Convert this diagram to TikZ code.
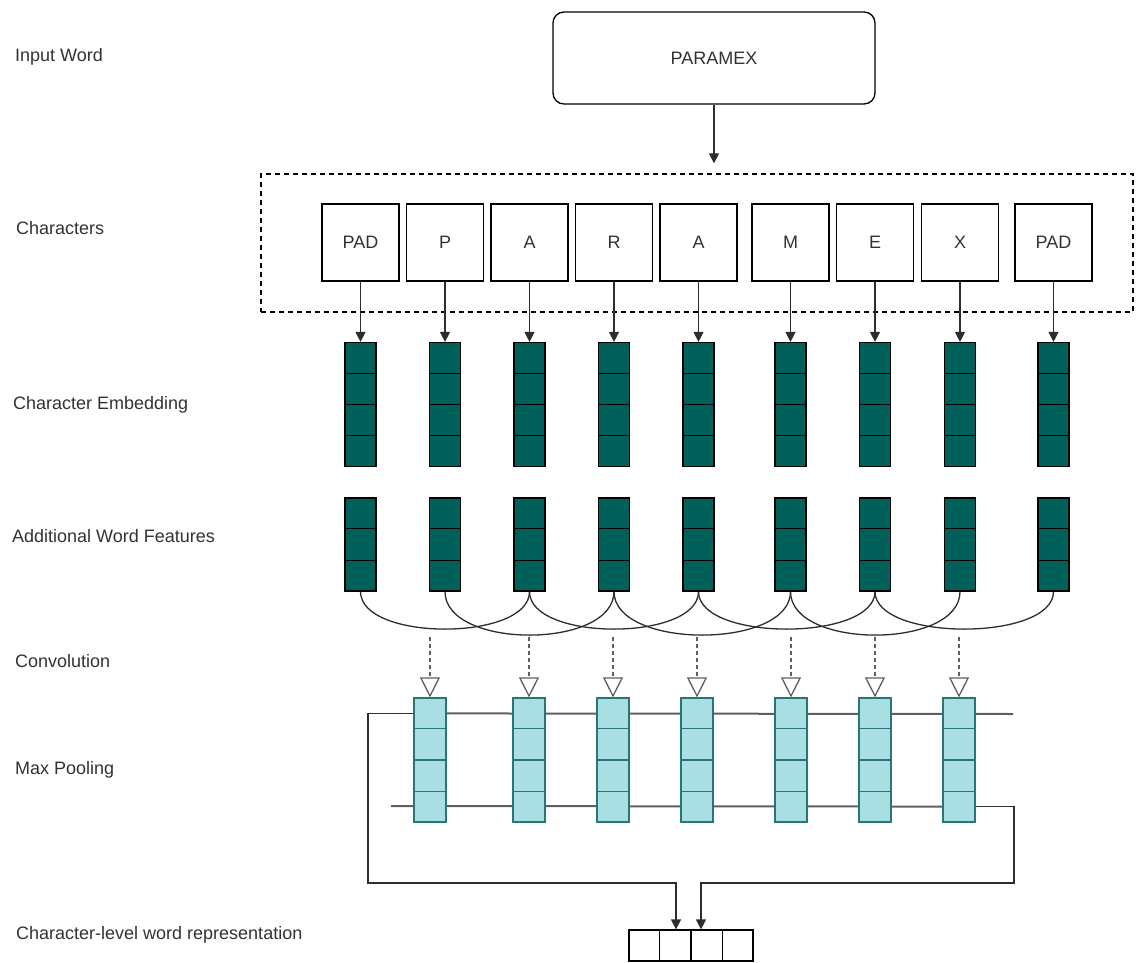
\documentclass[tikz,border=0pt]{standalone}
\usepackage{fontspec}
\setmainfont{Liberation Sans}
\usepackage{xcolor}
\usepackage{tikz}
\usetikzlibrary{arrows.meta,calc,backgrounds}
\definecolor{EmbedTeal}{RGB}{0,96,90}
\definecolor{PoolCyan}{RGB}{169,223,226}
\definecolor{PoolEdge}{RGB}{40,118,122}
\definecolor{LineDark}{RGB}{45,45,45}
\definecolor{RailGray}{RGB}{95,95,95}
\definecolor{TextGray}{RGB}{50,50,50}

\begin{document}
\begin{tikzpicture}[x=1pt,y=-1pt,font=\fontsize{18}{21}\selectfont,
    rowlabel/.style={anchor=west,text=TextGray,inner sep=0pt},
    wordbox/.style={draw,rounded corners=11pt,minimum width=322pt,minimum height=92pt,line width=1.3pt,text=TextGray},
    dashbox/.style={draw,dash pattern=on 5pt off 4pt,line width=1.3pt,minimum width=872pt,minimum height=138pt},
    charbox/.style={draw,minimum size=77pt,inner sep=0pt,line width=1.2pt,text=TextGray},
    embcol/.style={draw,fill=EmbedTeal,minimum width=31pt,minimum height=124pt,inner sep=0pt,line width=1.2pt},
    featcol/.style={embcol,minimum height=93pt},
    poolcol/.style={draw=PoolEdge,fill=PoolCyan,minimum width=32pt,minimum height=124pt,inner sep=0pt,line width=1.2pt},
    repbox/.style={draw,minimum width=124pt,minimum height=31pt,inner sep=0pt,line width=1.2pt},
    arr/.style={-{Triangle[length=10pt,width=10pt]},line width=1.3pt,draw=LineDark},
    convarr/.style={-{Triangle[open,length=20pt,width=20pt,fill=white]},dash pattern=on 4pt off 3pt,line width=1.3pt,draw=RailGray},
    curve/.style={line width=1.3pt,draw=LineDark},
    rail/.style={line width=2pt,draw=RailGray}]
  \useasboundingbox (0,0) rectangle (1136,963);

  % labels on the left
  \node[rowlabel] (lblword) at (15,57) {Input Word};
  \node[rowlabel] (lblchar) at (16,228) {Characters};
  \node[rowlabel] (lblemb) at (13,405) {Character Embedding};
  \node[rowlabel] (lblfeat) at (12,536) {Additional Word Features};
  \node[rowlabel] (lblconv) at (15,661) {Convolution};
  \node[rowlabel] (lblpool) at (15,770) {Max Pooling};
  \node[rowlabel] (lblrep) at (16,935) {Character-level word representation};

  % input word
  \node[wordbox] (word) at (714,58) {PARAMEX};
  \node[dashbox] (charrow) at (697,243) {};
  \draw[arr,shorten >=10pt] (word.south) -- (word.south |- charrow.north);

  % characters, embeddings, features
  \foreach \x/\c [count=\i from 0] in {360.5/PAD,445/P,529.5/A,614/R,698.5/A,790.5/M,875/E,960/X,1053.5/PAD}{
    \node[charbox] (ch\i) at (\x,242.5) {\c};
    \node[embcol] (emb\i) at (\x,404.5) {};
    \node[featcol] (feat\i) at (\x,544.5) {};
    \foreach \k in {1,2,3}
      \draw[line width=1.2pt] ($(emb\i.north west)!\k/4!(emb\i.south west)$) -- ($(emb\i.north east)!\k/4!(emb\i.south east)$);
    \foreach \k in {1,2}
      \draw[line width=1.2pt] ($(feat\i.north west)!\k/3!(feat\i.south west)$) -- ($(feat\i.north east)!\k/3!(feat\i.south east)$);
    \draw[arr] (ch\i.south) -- (emb\i.north);
  }

  % convolution windows
  \foreach \i in {0,...,6}{
    \pgfmathtruncatemacro{\j}{\i+2}
    \pgfmathsetmacro{\dip}{mod(\i,2)==0 ? 50 : 58}
    \draw[curve] (feat\i.south) .. controls +(0,\dip) and +(0,\dip) .. (feat\j.south);
  }

  % max pooling
  \foreach \x [count=\i from 0] in {430,529,613,697,791,875,959}{
    \coordinate (cv\i) at (\x,637);
    \node[poolcol] (pool\i) at (\x,760) {};
    \foreach \k in {1,2,3}
      \draw[PoolEdge,line width=1.2pt] ($(pool\i.north west)!\k/4!(pool\i.south west)$) -- ($(pool\i.north east)!\k/4!(pool\i.south east)$);
    \draw[convarr] (cv\i) -- (pool\i.north);
  }
  \coordinate (railend) at (1013,714);
  \coordinate (railstart) at (391,806);
  \begin{scope}[on background layer]
    \draw[rail] ([yshift=-16pt]pool0.north west) -- (railend);
    \draw[rail] (railstart) -- ([yshift=16pt]pool6.south east);
  \end{scope}

  % word representation
  \node[repbox] (rep) at (691,945.5) {};
  \foreach \k in {1,2,3}
    \draw[line width=1.2pt] ($(rep.north west)!\k/4!(rep.north east)$) -- ($(rep.south west)!\k/4!(rep.south east)$);
  \coordinate (leftbend) at (368,883);
  \coordinate (rightbend) at (1014,883);
  \draw[arr] ([yshift=-16pt]pool0.north west) -| (leftbend) -| ([xshift=-15pt]rep.north);
  \draw[arr] ([yshift=16pt]pool6.south east) -| (rightbend) -| ([xshift=10pt]rep.north);
\end{tikzpicture}
\end{document}
